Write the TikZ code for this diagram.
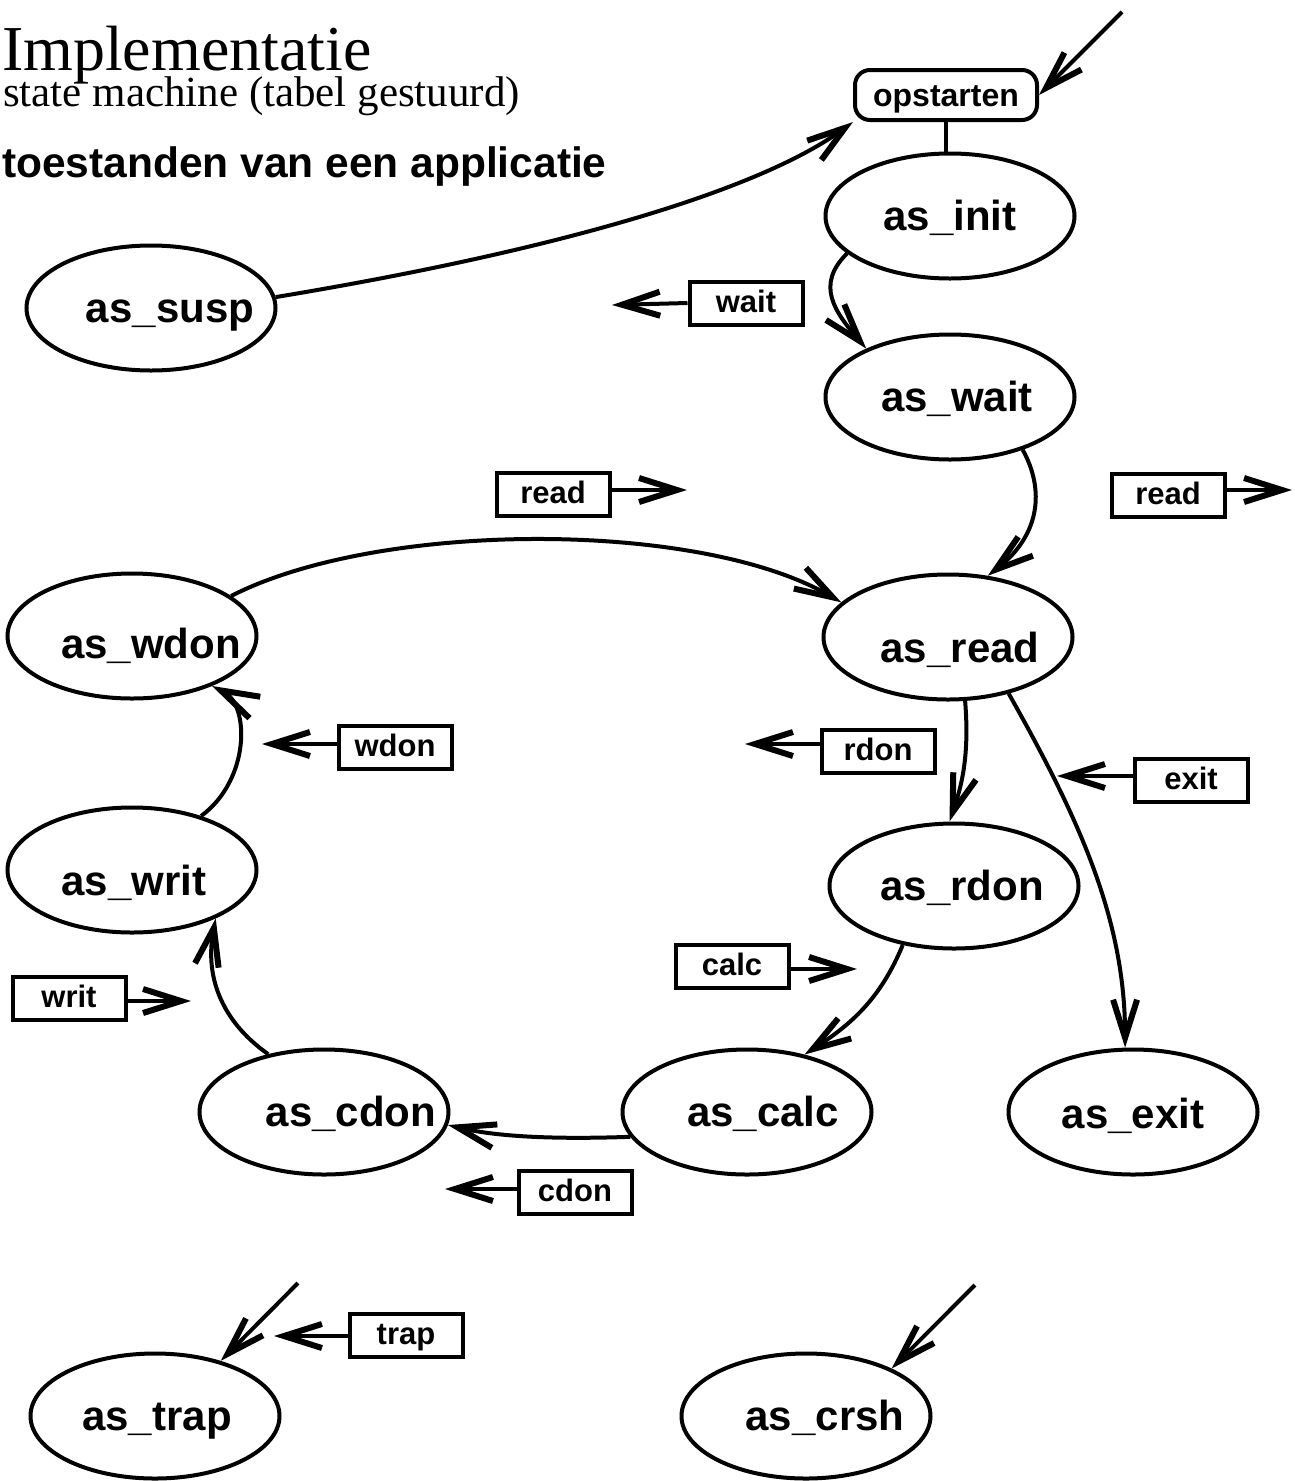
\documentclass[tikz,border=0pt]{standalone}
\usepackage{fontspec}
\setmainfont{Liberation Sans}
\newfontfamily\serifface{Liberation Serif}
\usetikzlibrary{arrows.meta,shapes.geometric}
\begin{document}
\begin{tikzpicture}[x=1pt,y=-1pt, line width=4pt,
  st/.style={ellipse, draw, minimum width=249pt, minimum height=125pt, inner sep=0pt},
  stxt/.style={inner sep=0pt, font=\fontsize{42}{48}\selectfont\bfseries, text height=30pt, text depth=2pt},
  lbl/.style={rectangle, draw, minimum width=113pt, minimum height=43pt, inner sep=0pt,
              font=\fontsize{31}{36}\selectfont\bfseries, text height=23pt, text depth=5pt},
  arr/.style={-{Straight Barb[length=38pt,width=24pt,line width=6pt]}},
]
\useasboundingbox (0,0) rectangle (1294,1481);

% titles
\node[anchor=base west, inner sep=0pt, font=\serifface\fontsize{64}{64}\selectfont] (title) at (0,70) {Implementatie};
\node[anchor=base west, inner sep=0pt, font=\serifface\fontsize{43}{43}\selectfont] (subtitle) at (1,106) {state machine (tabel gestuurd)};
\node[anchor=base west, inner sep=0pt, font=\fontsize{42.5}{43}\selectfont\bfseries] (heading) at (0,177) {toestanden van een applicatie};

% states
\node[rectangle, draw, rounded corners=15pt, minimum width=182pt, minimum height=50pt, inner sep=0pt,
      font=\fontsize{32}{36}\selectfont\bfseries, text height=23pt, text depth=0pt] (op) at (946,95) {opstarten};
\node[st, label={[stxt]center:as\_init}] (init) at (950,216) {};
\node[st, label={[stxt,xshift=19pt]center:as\_susp}] (susp) at (151,308) {};
\node[st, label={[stxt,xshift=7pt]center:as\_wait}] (wait) at (950,397) {};
\node[st, label={[stxt,xshift=12pt,yshift=-11pt]center:as\_read}] (read) at (948,637) {};
\node[st, label={[stxt,xshift=19pt,yshift=-8pt]center:as\_wdon}] (wdon) at (132,636) {};
\node[st, label={[stxt,xshift=8pt]center:as\_rdon}] (rdon) at (954,886) {};
\node[st, label={[stxt,xshift=2pt,yshift=-11pt]center:as\_writ}] (writ) at (132,870) {};
\node[st, label={[stxt,xshift=27pt]center:as\_cdon}] (cdon) at (324,1112) {};
\node[st, label={[stxt,xshift=16pt]center:as\_calc}] (calc) at (747,1112) {};
\node[st, label={[stxt,yshift=-2pt]center:as\_exit}] (exit) at (1133,1112) {};
\node[st, label={[stxt,xshift=2pt]center:as\_trap}] (trap) at (155,1416) {};
\node[st, label={[stxt,xshift=19pt]center:as\_crsh}] (crsh) at (806,1416) {};

% event labels
\node[lbl] (lwait) at (746,303) {wait};
\node[lbl] (lread1) at (553,494) {read};
\node[lbl] (lread2) at (1168,495) {read};
\node[lbl] (lwdon) at (395,747) {wdon};
\node[lbl] (lrdon) at (878,751) {rdon};
\node[lbl] (lexit) at (1191,780) {exit};
\node[lbl] (lcalc) at (732,966) {calc};
\node[lbl] (lwrit) at (69,998) {writ};
\node[lbl] (lcdon) at (575,1192) {cdon};
\node[lbl] (ltrap) at (406,1335) {trap};

% free ends
\coordinate (cwait) at (612,305);
\coordinate (cread1) at (687,490);
\coordinate (cread2) at (1292,490);
\coordinate (cwdon) at (262,744);
\coordinate (crdon) at (745,744);
\coordinate (cexit) at (1057,776);
\coordinate (ccalc) at (857,969);
\coordinate (cwrit) at (191,1001);
\coordinate (ccdon) at (445,1189);
\coordinate (ctrap) at (274,1336);
\coordinate (sop) at (1122,12);
\coordinate (strap) at (298,1283);
\coordinate (scrsh) at (975,1285);

% label arrows
\draw[arr] (lwait.west) -- (cwait);
\draw[arr] (lread1.east |- cread1) -- (cread1);
\draw[arr] (lread2.east |- cread2) -- (cread2);
\draw[arr] (lwdon.west |- cwdon) -- (cwdon);
\draw[arr] (lrdon.west |- crdon) -- (crdon);
\draw[arr] (lexit.west |- cexit) -- (cexit);
\draw[arr] (lcalc.east |- ccalc) -- (ccalc);
\draw[arr] (lwrit.east |- cwrit) -- (cwrit);
\draw[arr] (lcdon.west |- ccdon) -- (ccdon);
\draw[arr] (ltrap.west |- ctrap) -- (ctrap);

% transitions
\draw (op.south) -- (op.south |- init.north);
\draw[arr] (sop) -- (op.east);
\draw[arr] (susp.5) .. controls (560,250) and (760,190) .. (op.south west);
\draw[arr] (init.200) .. controls (815,285) and (835,312) .. (wait.150);
\draw[arr] (wait.-36) .. controls (1045,490) and (1040,535) .. (read.57);
\draw[arr] (wdon.22) .. controls (380,520) and (700,520) .. (read.162);
\draw[arr] (read.-75) .. controls (970,760) and (960,790) .. (rdon.94);
\draw[arr] (read.-43) .. controls (1080,820) and (1125,920) .. (exit.97);
\draw[arr] (rdon.229) .. controls (880,1000) and (850,1025) .. (calc.45);
\draw[arr] (calc.192) .. controls (540,1140) and (490,1135) .. (cdon.-6);
\draw[arr] (cdon.134) .. controls (220,1020) and (205,975) .. (writ.-30);
\draw[arr] (writ.38) .. controls (250,780) and (250,705) .. (wdon.-32);
\draw[arr] (strap) -- (trap.40);
\draw[arr] (scrsh) -- (crsh.29);
\end{tikzpicture}
\end{document}
